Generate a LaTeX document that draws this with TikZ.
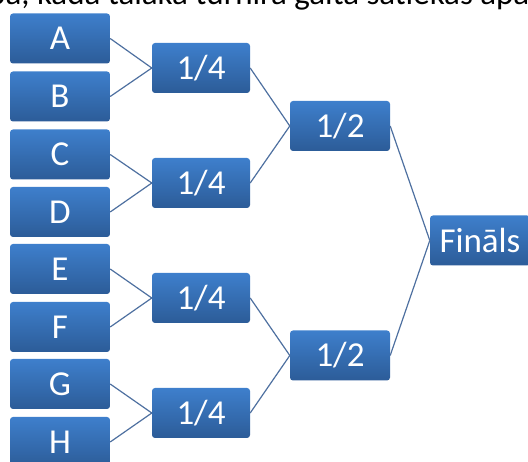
\documentclass[tikz,border=0pt]{standalone}
\usepackage{fontspec}
\setmainfont{Carlito}
\definecolor{boxtop}{RGB}{62,127,204}
\definecolor{boxbot}{RGB}{44,92,152}
\definecolor{linkcol}{RGB}{78,112,160}
\begin{document}
\begin{tikzpicture}[x=1pt,y=-1pt,
  team/.style={rectangle,rounded corners=3pt,top color=boxtop,bottom color=boxbot,
    text=white,minimum width=100pt,minimum height=50pt,inner sep=0pt,
    font=\fontsize{35}{40}\selectfont},
  link/.style={draw=linkcol,line width=1.2pt}]
\useasboundingbox (0,0) rectangle (528,462);
\clip (0,0) rectangle (528,462);
\node[anchor=base west,inner sep=0pt,font=\fontsize{33}{38}\selectfont] (title) at (-12,5) {ba, kādā tālākā turnīra gaitā satiekas apakšgrupu};
\node[team] (a) at (60,38.5) {A};
\node[team] (b) at (60,96.5) {B};
\node[team] (c) at (60,154.5) {C};
\node[team] (d) at (60,212) {D};
\node[team] (e) at (60,269) {E};
\node[team] (f) at (60,327) {F};
\node[team] (g) at (60,384) {G};
\node[team] (h) at (60,442) {H};
\node[team,minimum width=98pt] (q1) at (201,68) {1/4};
\node[team,minimum width=98pt] (q2) at (201,183) {1/4};
\node[team,minimum width=98pt] (q3) at (201,298) {1/4};
\node[team,minimum width=98pt] (q4) at (201,413) {1/4};
\node[team] (s1) at (340,126) {1/2};
\node[team] (s2) at (340,355.5) {1/2};
\node[team] (fin) at (480,240.5) {Fināls};
\draw[link] (a.east) -- (q1.west);
\draw[link] (b.east) -- (q1.west);
\draw[link] (c.east) -- (q2.west);
\draw[link] (d.east) -- (q2.west);
\draw[link] (e.east) -- (q3.west);
\draw[link] (f.east) -- (q3.west);
\draw[link] (g.east) -- (q4.west);
\draw[link] (h.east) -- (q4.west);
\draw[link] (q1.east) -- (s1.west);
\draw[link] (q2.east) -- (s1.west);
\draw[link] (q3.east) -- (s2.west);
\draw[link] (q4.east) -- (s2.west);
\draw[link] (s1.east) -- (fin.west);
\draw[link] (s2.east) -- (fin.west);
\end{tikzpicture}
\end{document}
